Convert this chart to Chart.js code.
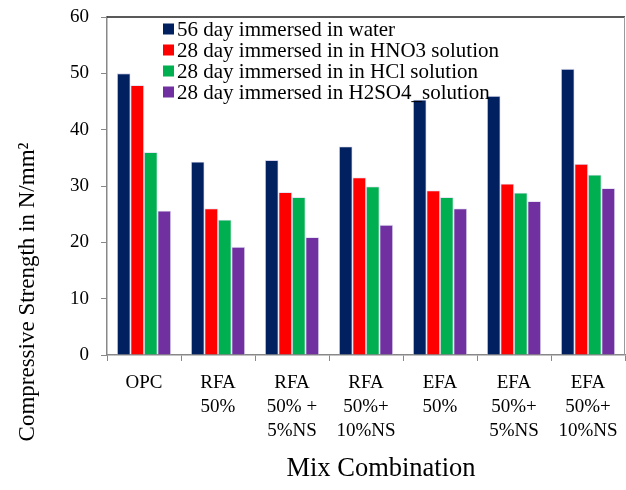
<!DOCTYPE html>
<html>
<head>
<meta charset="utf-8">
<script src="https://cdn.jsdelivr.net/npm/chart.js@4.4.1/dist/chart.umd.min.js"></script>
<style>
  html, body { margin: 0; padding: 0; background: #fff; }
  #wrap { width: 626px; height: 490px; }
</style>
</head>
<body>
<div id="wrap"><canvas id="chart" width="626" height="490"></canvas></div>
<script>
// --- Données ---
const categories = [
    ['OPC'],
    ['RFA', '50%'],
    ['RFA', '50% +', '5%NS'],
    ['RFA', '50%+', '10%NS'],
    ['EFA', '50%'],
    ['EFA', '50%+', '5%NS'],
    ['EFA', '50%+', '10%NS']
];
const seriesNames = [
    '56 day immersed in water',
    '28 day immersed in in HNO3 solution',
    '28 day immersed in in HCl solution',
    '28 day immersed in H2SO4_solution'
];
const water56 = [50.0, 34.3, 34.6, 37.0, 45.3, 46.0, 50.8];
const hno3 = [47.9, 26.0, 28.9, 31.5, 29.2, 30.4, 33.9];
const hcl = [36.0, 24.0, 28.0, 29.9, 28.0, 28.8, 32.0];
const h2so4 = [25.6, 19.2, 20.9, 23.1, 26.0, 27.3, 29.6];
const yTicks = [0, 10, 20, 30, 40, 50, 60];
const colors = ['#002060', '#ff0000', '#00b050', '#7030a0'];

const yTitle = 'Compressive Strength in N/mm\u00B2';
const xTitle = 'Mix Combination';
const serif = "'Liberation Serif', 'DejaVu Serif', serif";

// --- Plugin : cadre, légende et titres des axes ---
const decorPlugin = {
    id: 'decor',
    afterDraw(chart) {
        const ctx = chart.ctx;
        const a = chart.chartArea;
        ctx.save();
        // cadre haut et droit
        ctx.strokeStyle = '#222';
        ctx.lineWidth = 1.5;
        ctx.beginPath();
        ctx.moveTo(a.left, a.top);
        ctx.lineTo(a.right, a.top);
        ctx.stroke();
        ctx.strokeStyle = '#9a9a9a';
        ctx.lineWidth = 1;
        ctx.beginPath();
        ctx.moveTo(a.right - 0.5, a.top);
        ctx.lineTo(a.right - 0.5, a.bottom);
        ctx.stroke();

        // légende dans la zone du graphique
        ctx.font = '21px ' + serif;
        ctx.textBaseline = 'middle';
        ctx.textAlign = 'left';
        chart.data.datasets.forEach((ds, i) => {
            const y = a.top + 12 + i * 21;
            ctx.fillStyle = ds.backgroundColor;
            ctx.fillRect(a.left + 56, y - 5.5, 11, 11);
            ctx.fillStyle = '#000';
            ctx.fillText(ds.label, a.left + 70, y + 1);
        });

        // titres des axes
        ctx.fillStyle = '#000';
        ctx.textAlign = 'center';
        ctx.font = '26.5px ' + serif;
        ctx.fillText(xTitle, 381, 469);
        ctx.font = '23px ' + serif;
        ctx.translate(28, 292);
        ctx.rotate(-Math.PI / 2);
        ctx.fillText(yTitle, 0, 0);
        ctx.restore();
    }
};

const ctx = document.getElementById('chart').getContext('2d');
new Chart(ctx, {
    type: 'bar',
    data: {
        labels: categories,
        datasets: [water56, hno3, hcl, h2so4].map((vals, i) => ({
            label: seriesNames[i],
            data: vals,
            backgroundColor: colors[i],
            borderColor: 'rgba(210,205,235,0.9)',
            borderWidth: 0.8,
            categoryPercentage: 0.73,
            barPercentage: 1
        }))
    },
    options: {
        responsive: false,
        animation: false,
        layout: { padding: { top: 17, right: 1, left: 0, bottom: 0 } },
        plugins: {
            legend: { display: false },
            tooltip: { enabled: false }
        },
        scales: {
            x: {
                grid: {
                    offset: true,
                    drawOnChartArea: false,
                    drawTicks: true,
                    tickLength: 6,
                    color: '#888'
                },
                border: { color: '#888', width: 1.5 },
                ticks: {
                    color: '#000',
                    font: { family: serif, size: 19, lineHeight: 1.27 },
                    padding: 10,
                    maxRotation: 0,
                    autoSkip: false
                },
                afterFit(scale) {
                    scale.height = 135;
                    scale.paddingLeft = 0;
                    scale.paddingRight = 0;
                }
            },
            y: {
                min: 0,
                max: 60,
                afterBuildTicks(scale) { scale.ticks = yTicks.map(v => ({ value: v })); },
                grid: {
                    drawOnChartArea: false,
                    drawTicks: true,
                    tickLength: 6,
                    color: '#888'
                },
                border: { color: '#888', width: 1.5 },
                ticks: {
                    color: '#000',
                    font: { family: serif, size: 19 },
                    padding: 12
                },
                afterFit(scale) {
                    scale.width = 107;
                    scale.paddingTop = 0;
                    scale.paddingBottom = 0;
                }
            }
        }
    },
    plugins: [decorPlugin]
});
</script>
</body>
</html>
